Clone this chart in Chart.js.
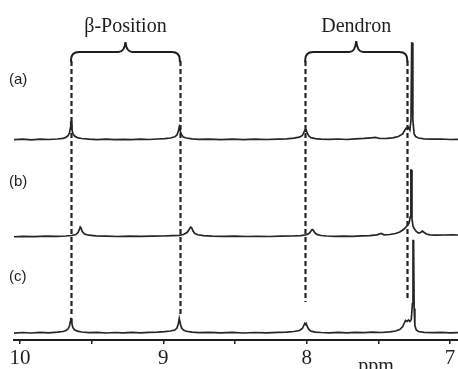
<!DOCTYPE html>
<html>
<head>
<meta charset="utf-8">
<script src="https://cdn.jsdelivr.net/npm/chart.js@4/dist/chart.umd.min.js"></script>
<style>
  html, body { margin: 0; padding: 0; background: #fff; }
  #wrap { width: 458px; height: 369px; }
</style>
</head>
<body>
<div id="wrap"><canvas id="nmr"></canvas></div>
<script>
// chemical shift (ppm) and intensity above each trace's own baseline
const traceA = [
  [10.05,0.3],[9.98,0.8],[9.92,0.2],[9.86,0.9],[9.80,0.5],[9.74,1.0],[9.70,1.6],[9.68,2.6],[9.665,4.2],[9.655,7],
  [9.649,12],[9.646,18],[9.642,18],[9.638,11],[9.632,6.5],[9.62,4],[9.60,2.4],[9.57,1.5],[9.52,0.9],[9.46,0.4],
  [9.40,0.8],[9.34,0.3],[9.28,0.7],[9.22,0.4],[9.16,0.9],[9.10,0.5],[9.04,1.0],[8.99,1.4],[8.95,2.0],[8.92,3.2],
  [8.905,5],[8.895,9],[8.889,13],[8.885,13],[8.880,8],[8.872,5],[8.86,3],[8.84,2],[8.80,1.2],[8.75,0.6],
  [8.68,0.9],[8.60,0.4],[8.52,0.8],[8.44,0.3],[8.36,0.8],[8.28,0.5],[8.20,0.9],[8.14,1.2],[8.09,1.8],[8.05,2.8],
  [8.03,4.5],[8.02,7.5],[8.013,9.5],[8.008,9],[8.003,9.8],[7.996,7],[7.985,4],[7.97,2.3],[7.94,1.4],[7.90,0.9],
  [7.84,0.6],[7.78,1],[7.72,0.5],[7.66,1.1],[7.60,1.6],[7.55,2.2],[7.52,2.6],[7.49,1.5],[7.44,1.6],[7.40,2.2],
  [7.36,3.5],[7.33,6],[7.315,10],[7.305,12],[7.298,11],[7.29,12.5],[7.28,10],[7.272,20],[7.267,97],[7.263,97],
  [7.259,20],[7.25,6],[7.24,3.5],[7.22,2],[7.18,1.2],[7.12,0.8],[7.06,1.0],[7.00,0.5],[6.94,0.7]
];
const traceB = [
  [10.05,0.2],[9.98,0.6],[9.90,0.3],[9.82,0.8],[9.74,0.6],[9.68,1.0],[9.64,1.5],[9.61,2.5],[9.595,4.5],[9.585,8],
  [9.580,10],[9.575,9],[9.565,5.5],[9.55,3],[9.52,1.8],[9.47,1.1],[9.40,0.8],[9.32,0.5],[9.24,0.8],[9.16,0.6],
  [9.08,0.9],[9.00,1.0],[8.94,1.3],[8.89,1.7],[8.86,2.5],[8.835,4.5],[8.82,7.5],[8.81,10],[8.803,9.5],[8.793,6],
  [8.78,3.5],[8.76,2.2],[8.72,1.4],[8.66,0.9],[8.58,0.6],[8.50,0.8],[8.42,0.5],[8.34,0.7],[8.26,0.5],[8.18,0.8],
  [8.10,1.0],[8.04,1.4],[8.00,2.2],[7.98,4],[7.97,6],[7.962,7.5],[7.955,7],[7.945,4.5],[7.93,2.6],[7.90,1.5],
  [7.86,1.0],[7.80,0.7],[7.74,0.9],[7.68,0.7],[7.62,1.1],[7.56,1.4],[7.51,2.2],[7.48,3.5],[7.46,2.2],[7.42,2.5],
  [7.38,3.5],[7.35,5],[7.32,8],[7.30,11],[7.285,14],[7.278,20],[7.273,67],[7.269,67],[7.265,18],[7.258,11],
  [7.248,8],[7.235,5.5],[7.22,4],[7.205,4.5],[7.192,6],[7.18,4.5],[7.165,3],[7.14,2.2],[7.10,1.8],[7.04,2.0],
  [6.98,2.2],[6.94,2.0]
];
const traceC = [
  [10.05,0.4],[9.98,1.0],[9.92,0.5],[9.86,1.1],[9.80,0.7],[9.74,1.3],[9.70,2],[9.68,3],[9.665,4.5],[9.655,7.5],
  [9.649,12],[9.646,15],[9.642,15],[9.638,10],[9.632,6],[9.62,3.8],[9.60,2.4],[9.57,1.5],[9.52,0.9],[9.46,1.2],
  [9.40,0.5],[9.34,1.0],[9.28,0.6],[9.22,1.1],[9.16,0.7],[9.10,1.2],[9.04,1.4],[8.99,1.8],[8.95,2.5],[8.92,3.5],
  [8.905,5.5],[8.895,10],[8.889,15],[8.885,15],[8.880,9],[8.872,5.5],[8.86,3.5],[8.84,2.2],[8.80,1.3],[8.75,0.8],
  [8.68,1.2],[8.60,0.6],[8.52,1.1],[8.44,0.5],[8.36,1.0],[8.28,0.6],[8.20,1.1],[8.14,1.4],[8.09,2],[8.05,3],
  [8.03,5],[8.02,8],[8.013,10],[8.008,9],[8.003,10],[7.996,7],[7.985,4],[7.97,2.4],[7.94,1.4],[7.90,1.0],
  [7.84,0.6],[7.78,1.1],[7.72,0.6],[7.66,1.2],[7.60,0.8],[7.54,1.3],[7.48,1.0],[7.42,1.6],[7.38,2.5],[7.35,4],
  [7.33,7],[7.32,10],[7.31,13],[7.30,12],[7.29,13.5],[7.28,12],[7.27,14],[7.262,30],[7.258,93],[7.254,93],
  [7.25,25],[7.245,8],[7.235,3.5],[7.22,2],[7.18,1.2],[7.12,0.8],[7.06,1.2],[7.00,0.6],[6.94,0.9]
];

const traceNames = ['(a)', '(b)', '(c)'];
const tickValues = [10, 9.5, 9, 8.5, 8, 7.5, 7];
const betaShifts = [9.644, 8.885];
const dendronShifts = [8.01, 7.298];
const groupLabels = ['\u03B2-Position', 'Dendron'];

// vertical offsets of the stacked spectra (in y units, 1 unit = 1 px)
const offsets = [200, 103, 6.5];
const traces = [traceA, traceB, traceC];

const ink = '#1e1e1e';

const annotate = {
  id: 'annotate',
  afterDatasetsDraw(chart) {
    const ctx = chart.ctx, xs = chart.scales.x, ys = chart.scales.y;
    const px = v => xs.getPixelForValue(v);
    const py = v => ys.getPixelForValue(v);
    ctx.save();

    // dashed guides
    ctx.strokeStyle = '#222';
    ctx.lineWidth = 2.2;
    ctx.setLineDash([5, 3]);
    const guides = [[betaShifts[0], 26], [betaShifts[1], 26], [dendronShifts[0], 38], [dendronShifts[1], 42]];
    guides.forEach(([ppm, yEnd]) => {
      ctx.beginPath();
      ctx.moveTo(Math.round(px(ppm)) + 0.5, py(279));
      ctx.lineTo(Math.round(px(ppm)) + 0.5, py(yEnd));
      ctx.stroke();
    });
    ctx.setLineDash([]);

    // curly brackets
    const brace = (x1, x2, yH, yTip) => {
      const xc = (x1 + x2) / 2, r = 8;
      ctx.beginPath();
      ctx.moveTo(x1, yH + 10);
      ctx.lineTo(x1, yH + r);
      ctx.quadraticCurveTo(x1, yH, x1 + r, yH);
      ctx.lineTo(xc - 7, yH);
      ctx.quadraticCurveTo(xc - 1, yH, xc, yTip);
      ctx.quadraticCurveTo(xc + 1, yH, xc + 7, yH);
      ctx.lineTo(x2 - r, yH);
      ctx.quadraticCurveTo(x2, yH, x2, yH + r);
      ctx.lineTo(x2, yH + 10);
      ctx.stroke();
    };
    ctx.lineWidth = 2;
    ctx.strokeStyle = ink;
    const bx = [betaShifts.map(px), dendronShifts.map(px)];
    brace(bx[0][0], bx[0][1], py(288), py(298));
    brace(bx[1][0], bx[1][1], py(288), py(299));

    ctx.fillStyle = ink;
    ctx.font = '20px "Liberation Serif", "Times New Roman", serif';
    ctx.textAlign = 'center';
    ctx.textBaseline = 'alphabetic';
    ctx.fillText(groupLabels[0], (bx[0][0] + bx[0][1]) / 2, 32);
    ctx.fillText(groupLabels[1], (bx[1][0] + bx[1][1]) / 2, 32);

    // trace labels
    ctx.font = '15px "Liberation Sans", Arial, sans-serif';
    ctx.textAlign = 'left';
    ctx.textBaseline = 'middle';
    const labelY = [80, 182, 277];
    traceNames.forEach((t, i) => ctx.fillText(t, 9, labelY[i]));

    // axis unit
    ctx.font = '20px "Liberation Serif", "Times New Roman", serif';
    ctx.textAlign = 'center';
    ctx.textBaseline = 'alphabetic';
    ctx.fillText('ppm', 376, 372);
    ctx.restore();
  }
};

new Chart(document.getElementById('nmr'), {
  type: 'line',
  data: {
    datasets: traces.map((tr, i) => ({
      label: traceNames[i],
      data: tr.map(p => ({ x: p[0], y: p[1] + offsets[i] })),
      borderColor: '#262626',
      borderWidth: 1.7,
      pointRadius: 0,
      tension: 0,
      fill: false
    }))
  },
  options: {
    responsive: true,
    maintainAspectRatio: false,
    animation: false,
    events: [],
    layout: { padding: { left: 14, right: 0, top: 0, bottom: 0 } },
    plugins: { legend: { display: false }, tooltip: { enabled: false } },
    scales: {
      x: {
        type: 'linear',
        reverse: true,
        min: 6.944,
        max: 10.042,
        afterBuildTicks: s => { s.ticks = tickValues.map(v => ({ value: v })); },
        afterFit: s => { s.height = 29; },
        border: { display: true, color: ink, width: 2 },
        grid: { display: true, drawOnChartArea: false, drawTicks: true, tickLength: 4, color: ink, lineWidth: 1.5 },
        ticks: {
          autoSkip: false,
          maxRotation: 0,
          padding: 2,
          color: ink,
          font: { family: '"Liberation Serif", "Times New Roman", serif', size: 21 },
          callback: v => Number.isInteger(v) ? String(v) : ''
        }
      },
      y: { display: false, min: 0, max: 340 }
    }
  },
  plugins: [annotate]
});
</script>
</body>
</html>
